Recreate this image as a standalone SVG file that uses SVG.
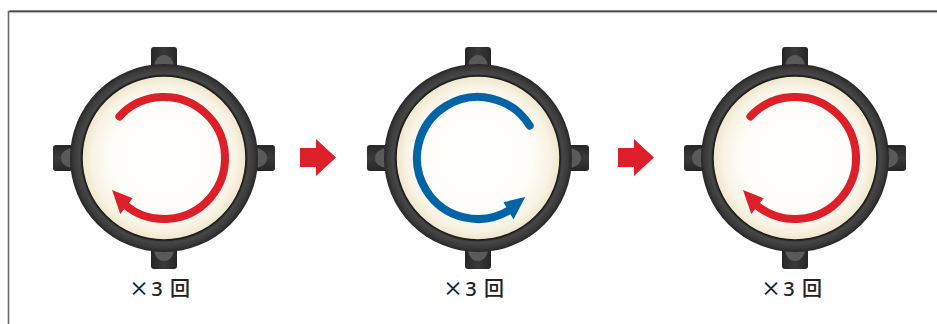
<svg xmlns="http://www.w3.org/2000/svg" xmlns:xlink="http://www.w3.org/1999/xlink" width="937" height="324" viewBox="0 0 937 324">
  <style>
    .label { font-family: "Noto Sans CJK JP", "Noto Sans", sans-serif; font-size: 20px; font-weight: 500; fill: #222; text-anchor: middle; }
    .latin { font-family: "Noto Sans", "Liberation Sans", sans-serif; }
    .bump { fill: #5a5a5a; }
    .step { fill: #dd1f2a; }
    .red { fill: none; stroke: #dd1f2a; stroke-width: 8; stroke-linecap: round; }
    .blue { fill: none; stroke: #0064a6; stroke-width: 8; stroke-linecap: round; }
  </style>
  <defs>
    <radialGradient id="face" cx="0.5" cy="0.5" r="0.5">
      <stop offset="0" stop-color="#ffffff"/>
      <stop offset="0.65" stop-color="#fefdf9"/>
      <stop offset="0.88" stop-color="#f8f3e4"/>
      <stop offset="1" stop-color="#efe6ca"/>
    </radialGradient>
    <radialGradient id="rim" cx="0.5" cy="0.5" r="0.5">
      <stop offset="0.86" stop-color="#222"/>
      <stop offset="0.9" stop-color="#474747"/>
      <stop offset="0.96" stop-color="#393939"/>
      <stop offset="1" stop-color="#262626"/>
    </radialGradient>
    <linearGradient id="tabShade" x1="0" y1="0" x2="1" y2="0">
      <stop offset="0" stop-color="#262626"/>
      <stop offset="0.5" stop-color="#3a3a3a"/>
      <stop offset="1" stop-color="#262626"/>
    </linearGradient>
    <!-- one lug, drawn pointing up; rotated for the other three -->
    <g id="lug">
      <path d="M-13,-84 V-108 Q-13,-111 -10,-111 H10 Q13,-111 13,-108 V-84 Z" fill="url(#tabShade)"/>
      <ellipse class="bump" cx="0" cy="-91" rx="10" ry="12"/>
    </g>
    <!-- lamp body centred on the origin -->
    <g id="lamp">
      <use xlink:href="#lug"/>
      <use xlink:href="#lug" transform="rotate(90)"/>
      <use xlink:href="#lug" transform="rotate(180)"/>
      <use xlink:href="#lug" transform="rotate(270)"/>
      <circle r="94" fill="url(#rim)"/>
      <circle r="82" fill="url(#face)"/>
      <circle r="82" fill="none" stroke="#1e1e1e" stroke-width="1.5"/>
    </g>
    <!-- clockwise turn -->
    <g id="cw">
      <path class="red" d="M-44.6,-41.6 A61,61 0 1 1 -39.2,46.7"/>
      <polygon points="-52,32 -31.4,40.2 -43.7,55.9" fill="#dd1f2a"/>
    </g>
    <!-- counter-clockwise turn -->
    <g id="ccw">
      <path class="blue" d="M51.7,-32.3 A61,61 0 1 0 32.3,51.7"/>
      <polygon points="47.2,39 25.5,44.2 35.5,61.5" fill="#0064a6"/>
    </g>
  </defs>

  <rect width="937" height="324" fill="#ffffff"/>

  <!-- frame -->
  <path d="M8.5,324 V11.5 H937" fill="none" stroke="#6a6a6a" stroke-width="1.6"/>
  <line x1="9.5" y1="11" x2="937" y2="11" stroke="#2e2e2e" stroke-width="1"/>
  <line x1="9.5" y1="12.6" x2="937" y2="12.6" stroke="#b0b0b0" stroke-width="0.8"/>

  <g id="step1">
    <use xlink:href="#lamp" transform="translate(164,158)"/>
    <use xlink:href="#cw" transform="translate(164,158)"/>
    <text class="label" y="296"><tspan x="139">×</tspan><tspan class="latin" x="157">3</tspan><tspan x="180">回</tspan></text>
  </g>

  <g id="step2">
    <use xlink:href="#lamp" transform="translate(478,158)"/>
    <use xlink:href="#ccw" transform="translate(478,158)"/>
    <text class="label" y="296"><tspan x="453">×</tspan><tspan class="latin" x="471">3</tspan><tspan x="494">回</tspan></text>
  </g>

  <g id="step3">
    <use xlink:href="#lamp" transform="translate(795,158)"/>
    <use xlink:href="#cw" transform="translate(795,158)"/>
    <text class="label" y="296"><tspan x="771">×</tspan><tspan class="latin" x="789">3</tspan><tspan x="812">回</tspan></text>
  </g>

  <g id="connectors">
    <polygon class="step" points="300,148 316,148 316,139 336,157.5 316,176 316,167 300,167"/>
    <polygon class="step" points="618,148 634,148 634,139 654,157.5 634,176 634,167 618,167"/>
  </g>
</svg>
